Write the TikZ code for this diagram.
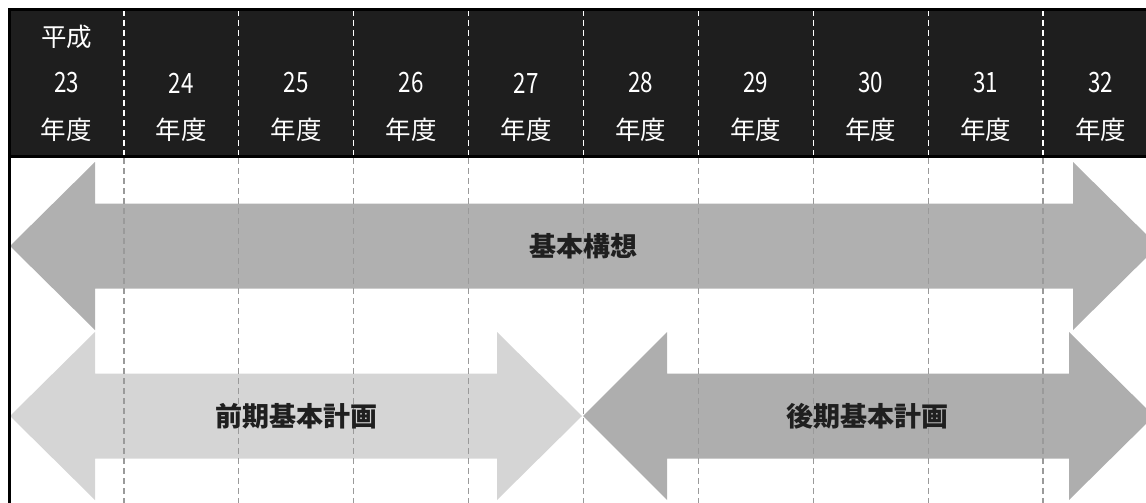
\documentclass[tikz,border=0pt]{standalone}
\usepackage{fontspec}
\usepackage{graphicx}
\newfontfamily\jp{Noto Sans CJK JP}
\definecolor{hdr}{HTML}{1E1E1E}
\definecolor{darkarrow}{HTML}{B0B0B0}
\definecolor{backarrow}{HTML}{AEAEAE}
\definecolor{lightarrow}{HTML}{D5D5D5}
\definecolor{gridgray}{HTML}{9A9A9A}
\tikzset{
  hdrtext/.style={text=white,font=\jp\fontsize{25.5}{28}\selectfont,inner sep=0pt,anchor=center},
  digtext/.style={text=white,font=\jp\fontsize{28}{30}\selectfont,inner sep=0pt,anchor=center,xscale=0.8},
  lbltext/.style={text=black!88,font=\jp\bfseries\fontsize{27}{30}\selectfont,inner sep=0pt,anchor=center},
  gridline/.style={gridgray,line width=1.3pt,dash pattern=on 6pt off 4pt},
  hdrgrid/.style={white,line width=1.3pt,dash pattern=on 6pt off 4pt},
  frameline/.style={black,line width=3pt}
}
\begin{document}
\begin{tikzpicture}[x=1pt,y=-1pt]
\useasboundingbox (0,0) rectangle (1146,503);
\clip (0,0) rectangle (1146,503);
% header
\fill[hdr] (9,10) rectangle (1160,155);
% arrows
\fill[darkarrow] (10,246) -- (95,162) -- (95,203.5) -- (1073,203.5) -- (1073,162) -- (1158,246)
  -- (1073,330) -- (1073,288.5) -- (95,288.5) -- (95,330) -- cycle;
\fill[lightarrow] (10,416) -- (95,332) -- (95,373.5) -- (497,373.5) -- (497,332) -- (582,416)
  -- (497,500) -- (497,458.5) -- (95,458.5) -- (95,500) -- cycle;
\fill[backarrow] (583,416) -- (667,332) -- (667,373.5) -- (1069,373.5) -- (1069,332) -- (1154,416)
  -- (1069,500) -- (1069,458.5) -- (667,458.5) -- (667,500) -- cycle;
% grid lines
\foreach \i in {1,...,9} {
  \pgfmathsetmacro{\xx}{9+114.9*\i}
  \draw[hdrgrid] (\xx,10) -- (\xx,155);
  \draw[gridline] (\xx,158) -- (\xx,503);
}
% frame
\draw[frameline] (9,503) -- (9,10) -- (1160,10);
\draw[frameline] (9,156) -- (1160,156);
% header texts
\node[hdrtext] (h0a) at (66.5,37) {平成};
\foreach \n [count=\i from 0] in {23,24,25,26,27,28,29,30,31,32} {
  \pgfmathsetmacro{\cx}{9+114.9*\i+57.45}
  \node[digtext] (y\n) at (\cx,83) {\n};
  \node[hdrtext] (n\n) at (\cx,130) {年度};
}
% labels
\node[lbltext] (kihon) at (583,246) {基本構想};
\node[lbltext] (zenki) at (296,416) {前期基本計画};
\node[lbltext] (kouki) at (867,416) {後期基本計画};
\end{tikzpicture}
\end{document}
